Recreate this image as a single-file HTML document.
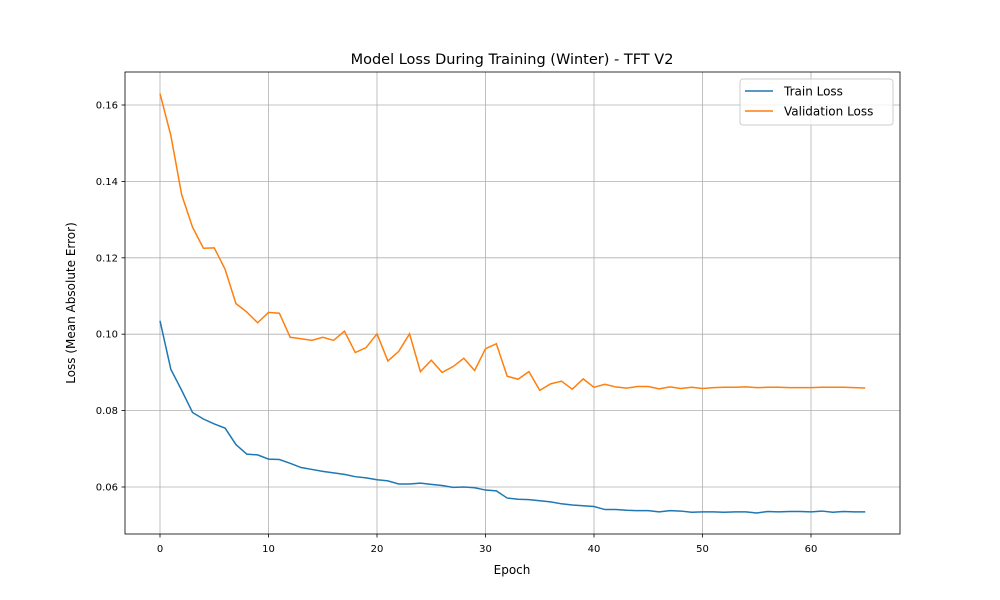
<!DOCTYPE html>
<html><head><meta charset="utf-8"><style>
body{margin:0;background:#fff;}
svg{display:block;font-family:"DejaVu Sans","Liberation Sans",sans-serif;}
</style></head><body>
<svg id="chart" width="1000" height="600"></svg>
<script>
const epochs = Array.from({length:66},(_,i)=>i);
const trainLoss = [0.1035,0.0908,0.0853,0.0795,0.0778,0.0765,0.0754,0.0711,0.0686,0.0684,0.0673,0.0672,0.0662,0.0651,0.0646,0.0641,0.0637,0.0633,0.0627,0.0624,0.0619,0.0616,0.0608,0.0608,0.061,0.0607,0.0604,0.0599,0.06,0.0598,0.0592,0.059,0.0571,0.0568,0.0567,0.0564,0.0561,0.0556,0.0553,0.0551,0.0549,0.0541,0.0541,0.0539,0.0538,0.0538,0.0535,0.0538,0.0537,0.0534,0.0535,0.0535,0.0534,0.0535,0.0535,0.0532,0.0536,0.0535,0.0536,0.0536,0.0535,0.0537,0.0534,0.0536,0.0535,0.0535];
const valLoss = [0.163,0.152,0.1365,0.128,0.1225,0.1226,0.117,0.108,0.1058,0.103,0.1057,0.1055,0.0992,0.0988,0.0984,0.0992,0.0984,0.1008,0.0952,0.0965,0.1001,0.093,0.0955,0.1001,0.0902,0.0932,0.09,0.0915,0.0937,0.0905,0.0962,0.0975,0.089,0.0882,0.0902,0.0853,0.087,0.0877,0.0856,0.0883,0.0861,0.0869,0.0862,0.0859,0.0863,0.0863,0.0857,0.0862,0.0858,0.0861,0.0858,0.086,0.0861,0.0861,0.0862,0.086,0.0861,0.0861,0.086,0.086,0.086,0.0861,0.0861,0.0861,0.086,0.0859];
const xTicks = [0,10,20,30,40,50,60];
const yTicks = [0.06,0.08,0.10,0.12,0.14,0.16];

const L=125,R=900,T=72,B=534;
const xs=v=>160+(v-0)*(811-160)/60;
const ys=v=>487-(v-0.06)*(487-105)/0.10;
const svg=document.getElementById('chart');
const NS='http://www.w3.org/2000/svg';
function mk(tag,attrs,parent){const e=document.createElementNS(NS,tag);for(const k in attrs)e.setAttribute(k,attrs[k]);(parent||svg).appendChild(e);return e;}

const grid=mk('g',{});


xTicks.forEach(t=>{
  mk('line',{x1:xs(t),x2:xs(t),y1:T,y2:B,stroke:'#b0b0b0','stroke-width':0.8},grid);
  mk('line',{x1:xs(t),x2:xs(t),y1:B,y2:B+3.5,stroke:'#000','stroke-width':0.8});
  const tx=mk('text',{x:xs(t),y:B+18,'text-anchor':'middle','font-size':10,fill:'#000'});
  tx.textContent=t;
  
  
});
yTicks.forEach(t=>{
  mk('line',{x1:L,x2:R,y1:ys(t),y2:ys(t),stroke:'#b0b0b0','stroke-width':0.8},grid);
  mk('line',{x1:L-3.5,x2:L,y1:ys(t),y2:ys(t),stroke:'#000','stroke-width':0.8});
  const tx=mk('text',{x:L-7,y:ys(t)+3.5,'text-anchor':'end','font-size':10,fill:'#000'});
  tx.textContent=t.toFixed(2);
  
  
});
function line(data,color,name){
  const p=mk('polyline',{points:data.map((v,i)=>xs(epochs[i])+','+ys(v)).join(' '),fill:'none',stroke:color,'stroke-width':1.5});
  
  
}
line(trainLoss,'#1f77b4','train-loss-line');
line(valLoss,'#ff7f0e','validation-loss-line');
const frame=mk('rect',{x:L,y:T,width:R-L,height:B-T,fill:'none',stroke:'#000','stroke-width':0.8});


</script>
<svg style="position:absolute;left:0;top:0" width="1000" height="600">
<text x="512" y="64" text-anchor="middle" font-size="14.5">Model Loss During Training (Winter) - TFT V2</text>
<text x="512" y="574" text-anchor="middle" font-size="12">Epoch</text>
<text transform="translate(75,303) rotate(-90)" text-anchor="middle" font-size="12">Loss (Mean Absolute Error)</text>
<g>
<rect x="740" y="79" width="153" height="46" rx="3" fill="#fff" fill-opacity="0.8" stroke="#ccc"/>
<line x1="745" x2="773" y1="91" y2="91" stroke="#1f77b4" stroke-width="1.5"/>
<text x="784" y="95.5" font-size="12">Train Loss</text>
<line x1="745" x2="773" y1="111" y2="111" stroke="#ff7f0e" stroke-width="1.5"/>
<text x="784" y="115.5" font-size="12">Validation Loss</text>
</g>
</svg>
</body></html>
